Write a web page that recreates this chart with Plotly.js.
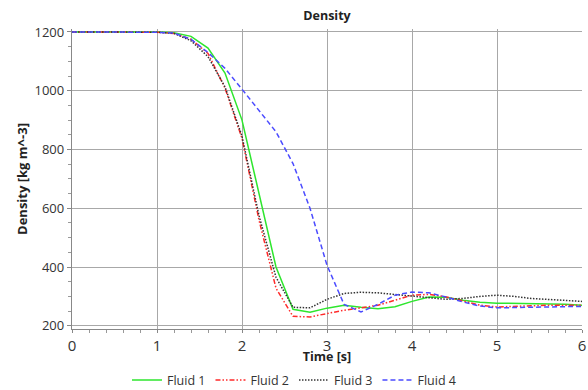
<!DOCTYPE html>
<html>
<head>
<meta charset="utf-8">
<script src="https://cdn.plot.ly/plotly-3.0.1.min.js"></script>
<style>html,body{margin:0;padding:0;background:#fff;}#chart{width:588px;height:390px;}</style>
</head>
<body>
<div id="chart"></div>
<script>
const time = [0,0.2,0.4,0.6,0.8,1.0,1.2,1.4,1.6,1.8,2.0,2.2,2.4,2.6,2.8,3.0,3.2,3.4,3.6,3.8,4.0,4.2,4.4,4.6,4.8,5.0,5.2,5.4,5.6,5.8,6.0];
const fluid1 = [1200,1200,1200,1200,1200,1200,1197,1185,1145,1060,900,645,400,256,246,260,270,263,258,265,283,298,297,287,280,277,276,276,275,273,270];
const fluid2 = [1200,1200,1200,1200,1200,1199,1195,1175,1127,1009,838,560,328,232,230,242,253,261,270,287,304,307,298,285,270,264,265,268,270,270,270];
const fluid3 = [1200,1200,1200,1200,1200,1199,1195,1170,1116,1013,845,575,365,263,261,290,310,314,312,307,300,295,290,293,300,304,300,293,290,288,283];
const fluid4 = [1200,1200,1200,1200,1200,1199,1196,1175,1130,1076,1005,934,860,752,600,406,273,247,273,304,315,312,298,281,267,261,262,263,264,265,266];
const seriesNames = ['Fluid 1','Fluid 2','Fluid 3','Fluid 4'];

const FONT = 'Open Sans, Noto Sans, sans-serif';
const styles = [
  {color:'#2ee62e', dash:'solid'},
  {color:'#ff2a2a', dash:'5px,2px,1.5px,2px,1.5px,2px'},
  {color:'#333333', dash:'1.5px,1.5px'},
  {color:'#4b4bff', dash:'5px,3px'}
];
const data = [fluid1, fluid2, fluid3, fluid4].map((ys, i) => ({
  x: time, y: ys, name: seriesNames[i], type:'scatter', mode:'lines',
  line: {color: styles[i].color, dash: styles[i].dash, width: 1.5}
}));

const layout = {
  width: 588, height: 390,
  margin: {l:72, r:6, t:29, b:61, autoexpand:false},
  paper_bgcolor:'#fff', plot_bgcolor:'#fff',
  font: {family: FONT, size: 13, color:'#333'},
  title: {text:'<b>Density</b>', font:{family:FONT, size:12.5, color:'#222'}, x:0.5, xref:'paper', xanchor:'center', y:0.96, yanchor:'middle'},
  showlegend: true,
  legend: {orientation:'h', xref:'container', yref:'container', x:0.5, xanchor:'center', y:0.025, yanchor:'middle',
           font:{family:FONT, size:12.5, color:'#333'}, itemwidth:30, tracegroupgap:0},
  xaxis: {
    range:[0,6], dtick:1, tick0:0, showgrid:true, gridcolor:'#a8a8a8', gridwidth:1,
    zeroline:false, showline:true, linecolor:'#888', linewidth:1.2,
    ticks:'outside', ticklen:3, tickcolor:'#888', automargin:true,
    minor:{dtick:0.2, ticks:'outside', ticklen:3, tickcolor:'#999', showgrid:false},
    tickfont:{family:FONT, size:15, color:'#333'},
    title:{text:'<b>Time [s]</b>', font:{family:FONT, size:12.5, color:'#222'}, standoff:3}
  },
  yaxis: {
    range:[189,1210], dtick:200, tick0:0, showgrid:true, gridcolor:'#a8a8a8', gridwidth:1,
    zeroline:false, showline:true, linecolor:'#888', linewidth:1.2,
    ticks:'outside', ticklen:4, tickcolor:'#888',
    minor:{dtick:50, ticks:'outside', ticklen:3, tickcolor:'#999', showgrid:false},
    tickfont:{family:FONT, size:13, color:'#333'},
    title:{text:'<b>Density [kg m^-3]</b>', font:{family:FONT, size:13, color:'#222'}, standoff:4}
  }
};
Plotly.newPlot('chart', data, layout, {displayModeBar:false, staticPlot:true});
</script>
</body>
</html>
